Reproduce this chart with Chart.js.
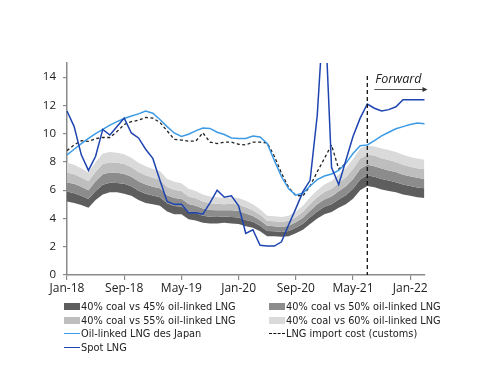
<!DOCTYPE html>
<html>
<head>
<meta charset="utf-8">
<script src="https://cdn.jsdelivr.net/npm/chart.js@4.4.1/dist/chart.umd.min.js"></script>
<style>
  body { margin: 0; background: #fff; }
  #wrap { position: relative; width: 500px; height: 386px; }
  #chart { position: absolute; left: 0; top: 0; }
  .lg { position: absolute; height: 14px; display: flex; align-items: center;
        font-family: "DejaVu Sans", sans-serif; font-size: 9.8px; color: #222; white-space: nowrap; }
  .sw { width: 16px; height: 7px; margin-right: 1px; }
  .ln { width: 16px; height: 0; margin-right: 1px; }
</style>
</head>
<body>
<div id="wrap">
  <canvas id="chart" width="500" height="300"></canvas>
  <div class="lg" style="left:64px;top:299px"><span class="sw" style="background:#5e5e5e"></span>40% coal vs 45% oil-linked LNG</div>
  <div class="lg" style="left:269px;top:299px"><span class="sw" style="background:#8c8c8c"></span>40% coal vs 50% oil-linked LNG</div>
  <div class="lg" style="left:64px;top:313px"><span class="sw" style="background:#bebebe"></span>40% coal vs 55% oil-linked LNG</div>
  <div class="lg" style="left:269px;top:313px"><span class="sw" style="background:#dadada"></span>40% coal vs 60% oil-linked LNG</div>
  <div class="lg" style="left:64px;top:326px"><span class="ln" style="border-top:1.5px solid #3d9be6"></span>Oil-linked LNG des Japan</div>
  <div class="lg" style="left:269px;top:326px"><span class="ln" style="border-top:1.5px dashed #111"></span>LNG import cost (customs)</div>
  <div class="lg" style="left:64px;top:340px"><span class="ln" style="border-top:1.5px solid #1d44b0"></span>Spot LNG</div>
</div>
<script>
const months = ['Jan-18','Feb-18','Mar-18','Apr-18','May-18','Jun-18','Jul-18','Aug-18','Sep-18','Oct-18','Nov-18','Dec-18',
  'Jan-19','Feb-19','Mar-19','Apr-19','May-19','Jun-19','Jul-19','Aug-19','Sep-19','Oct-19','Nov-19','Dec-19',
  'Jan-20','Feb-20','Mar-20','Apr-20','May-20','Jun-20','Jul-20','Aug-20','Sep-20','Oct-20','Nov-20','Dec-20',
  'Jan-21','Feb-21','Mar-21','Apr-21','May-21','Jun-21','Jul-21','Aug-21','Sep-21','Oct-21','Nov-21','Dec-21',
  'Jan-22','Feb-22','Mar-22'];

// Fuel-switching bands (lower edge, then the upper edge of each band)
const bandBase = [5.2, 5.1, 4.95, 4.75, 5.3, 5.7, 5.85, 5.85, 5.75, 5.6, 5.3, 5.1, 5.0, 4.9, 4.5, 4.3, 4.3, 3.95, 3.85, 3.7, 3.65, 3.65, 3.7, 3.65, 3.6, 3.45, 3.35, 3.1, 2.75, 2.75, 2.7, 2.75, 2.95, 3.2, 3.6, 4.0, 4.3, 4.45, 4.75, 5.0, 5.4, 6.0, 6.3, 6.2, 6.05, 5.95, 5.85, 5.7, 5.6, 5.5, 5.45];
const coal45 = [5.9, 5.78, 5.6, 5.38, 5.94, 6.39, 6.53, 6.51, 6.45, 6.28, 5.96, 5.75, 5.63, 5.51, 5.08, 4.88, 4.85, 4.49, 4.38, 4.2, 4.13, 4.11, 4.14, 4.11, 4.06, 3.9, 3.76, 3.49, 3.11, 3.1, 3.05, 3.11, 3.34, 3.63, 4.08, 4.5, 4.83, 5.0, 5.34, 5.64, 6.1, 6.75, 7.05, 6.95, 6.79, 6.68, 6.56, 6.4, 6.29, 6.19, 6.13];
const coal50 = [6.55, 6.45, 6.25, 6.0, 6.63, 7.13, 7.25, 7.23, 7.15, 6.95, 6.63, 6.4, 6.25, 6.13, 5.65, 5.45, 5.4, 5.03, 4.9, 4.7, 4.6, 4.58, 4.58, 4.58, 4.53, 4.35, 4.18, 3.88, 3.48, 3.45, 3.4, 3.48, 3.73, 4.05, 4.55, 5.0, 5.35, 5.55, 5.93, 6.28, 6.8, 7.5, 7.8, 7.7, 7.53, 7.4, 7.28, 7.1, 6.98, 6.88, 6.8];
const coal55 = [7.25, 7.13, 6.9, 6.63, 7.31, 7.86, 7.98, 7.94, 7.85, 7.63, 7.29, 7.05, 6.88, 6.74, 6.23, 6.03, 5.95, 5.56, 5.43, 5.2, 5.08, 5.04, 5.01, 5.04, 4.99, 4.8, 4.59, 4.26, 3.84, 3.8, 3.75, 3.84, 4.11, 4.48, 5.03, 5.5, 5.88, 6.1, 6.51, 6.91, 7.5, 8.25, 8.5, 8.45, 8.26, 8.13, 7.99, 7.8, 7.66, 7.56, 7.48];
const coal60 = [7.95, 7.8, 7.55, 7.25, 8.0, 8.6, 8.7, 8.65, 8.55, 8.3, 7.95, 7.7, 7.5, 7.35, 6.8, 6.6, 6.5, 6.1, 5.95, 5.7, 5.55, 5.5, 5.45, 5.5, 5.45, 5.25, 5.0, 4.65, 4.2, 4.15, 4.1, 4.2, 4.5, 4.9, 5.5, 6.0, 6.4, 6.65, 7.1, 7.55, 8.2, 8.95, 9.15, 9.1, 8.95, 8.85, 8.7, 8.5, 8.35, 8.25, 8.15];

const oilLinked = [8.5, 8.9, 9.3, 9.66, 10.0, 10.3, 10.6, 10.85, 11.07, 11.25, 11.4, 11.6, 11.45, 11.0, 10.5, 10.05, 9.8, 9.96, 10.2, 10.4, 10.37, 10.1, 9.94, 9.7, 9.66, 9.66, 9.84, 9.77, 9.3, 8.1, 6.95, 6.1, 5.65, 5.8, 6.3, 6.75, 7.0, 7.15, 7.4, 7.9, 8.6, 9.15, 9.2, 9.5, 9.85, 10.1, 10.35, 10.5, 10.65, 10.75, 10.7];
const importCost = [8.8, 9.2, 9.5, 9.45, 9.65, 9.73, 9.73, 10.15, 10.65, 10.85, 10.95, 11.15, 11.1, 10.8, 10.2, 9.6, 9.55, 9.47, 9.47, 10.06, 9.4, 9.3, 9.4, 9.4, 9.25, 9.2, 9.4, 9.4, 9.35, 8.4, 7.2, 6.2, 5.62, 5.6, 6.3, 7.3, 8.25, 9.2, 7.5, 7.9, null, null, null, null, null, null, null, null, null, null, null];
const spotLng = [11.6, 10.5, 8.5, 7.4, 8.4, 10.3, 9.9, 10.5, 11.1, 10.05, 9.7, 8.9, 8.25, 6.7, 5.2, 5.0, 5.0, 4.4, 4.4, 4.3, 5.1, 6.0, 5.5, 5.6, 4.9, 2.95, 3.2, 2.1, 2.05, 2.05, 2.35, 3.55, 4.7, 5.9, 6.7, 11.3, 19.5, 7.6, 6.4, 8.1, 9.8, 11.1, 12.1, 11.8, 11.6, 11.7, 11.9, 12.4, 12.4, 12.4, 12.4];

const forwardStart = 42; // Jul-21
const axisColor = '#8a8a8a';

function band(data, color, order) {
  return { data, fill: '-1', backgroundColor: color, borderWidth: 0, pointRadius: 0, order };
}

// Vertical "Forward" marker
const forwardMarker = {
  id: 'forwardMarker',
  afterDatasetsDraw(chart) {
    const { ctx, chartArea, scales } = chart;
    const x = scales.x.getPixelForValue(forwardStart);
    ctx.save();
    ctx.strokeStyle = '#111';
    ctx.lineWidth = 1.3;
    ctx.setLineDash([4, 3]);
    ctx.beginPath();
    ctx.moveTo(x, 76);
    ctx.lineTo(x, chartArea.bottom);
    ctx.stroke();
    ctx.setLineDash([]);
    ctx.fillStyle = '#222';
    ctx.font = 'italic 12.5px "Open Sans", sans-serif';
    ctx.textBaseline = 'alphabetic';
    ctx.fillText('Forward', x + 8, 83);
    // arrow
    ctx.strokeStyle = '#555';
    ctx.lineWidth = 1;
    ctx.beginPath();
    ctx.moveTo(x + 7, 89.5);
    ctx.lineTo(chartArea.right + 1, 89.5);
    ctx.stroke();
    ctx.fillStyle = '#333';
    ctx.beginPath();
    ctx.moveTo(chartArea.right + 3, 89.5);
    ctx.lineTo(chartArea.right - 2, 87);
    ctx.lineTo(chartArea.right - 2, 92);
    ctx.closePath();
    ctx.fill();
    ctx.restore();
  }
};

new Chart(document.getElementById('chart'), {
  type: 'line',
  data: {
    labels: months,
    datasets: [
      { label: 'Spot LNG', data: spotLng, borderColor: '#1d44b0', borderWidth: 1.5, pointRadius: 0, fill: false, order: 0 },
      { label: 'Oil-linked LNG des Japan', data: oilLinked, borderColor: '#3d9be6', borderWidth: 1.5, pointRadius: 0, fill: false, order: 1 },
      { label: 'LNG import cost (customs)', data: importCost, borderColor: '#222', borderWidth: 1.3, borderDash: [3, 2.5], pointRadius: 0, fill: false, order: 2 },
      { label: 'base', data: bandBase, borderWidth: 0, pointRadius: 0, fill: false, order: 10 },
      band(coal45, '#5e5e5e', 9),
      band(coal50, '#8c8c8c', 8),
      band(coal55, '#bebebe', 7),
      band(coal60, '#dadada', 6)
    ]
  },
  options: {
    responsive: false,
    animation: false,
    layout: { padding: { top: 63, right: 75.5, left: 0, bottom: 0 } },
    plugins: { legend: { display: false }, tooltip: { enabled: false } },
    scales: {
      x: {
        offset: false,
        border: { color: axisColor, width: 1.5 },
        grid: {
          drawOnChartArea: false,
          tickLength: 5,
          color: ctx => (ctx.index % 8 === 0 ? axisColor : 'rgba(0,0,0,0)'),
          lineWidth: 1.2
        },
        ticks: {
          autoSkip: false,
          maxRotation: 0,
          padding: 1,
          color: '#222',
          font: { family: 'Open Sans', size: 12 },
          callback: (v, i) => (i % 8 === 0 ? months[i] : '')
        },
        afterFit: s => { s.height = 25; }
      },
      y: {
        min: 0,
        max: 15,
        border: { color: axisColor, width: 1.5 },
        grid: { drawOnChartArea: false, tickLength: 4, color: axisColor, lineWidth: 1.2 },
        ticks: { stepSize: 2, padding: 7, color: '#222', font: { family: 'Open Sans', size: 11.5 } },
        afterBuildTicks: s => { s.ticks = s.ticks.filter(t => t.value <= 14); },
        afterFit: s => { s.width = 67; }
      }
    }
  },
  plugins: [forwardMarker]
});
</script>
</body>
</html>
